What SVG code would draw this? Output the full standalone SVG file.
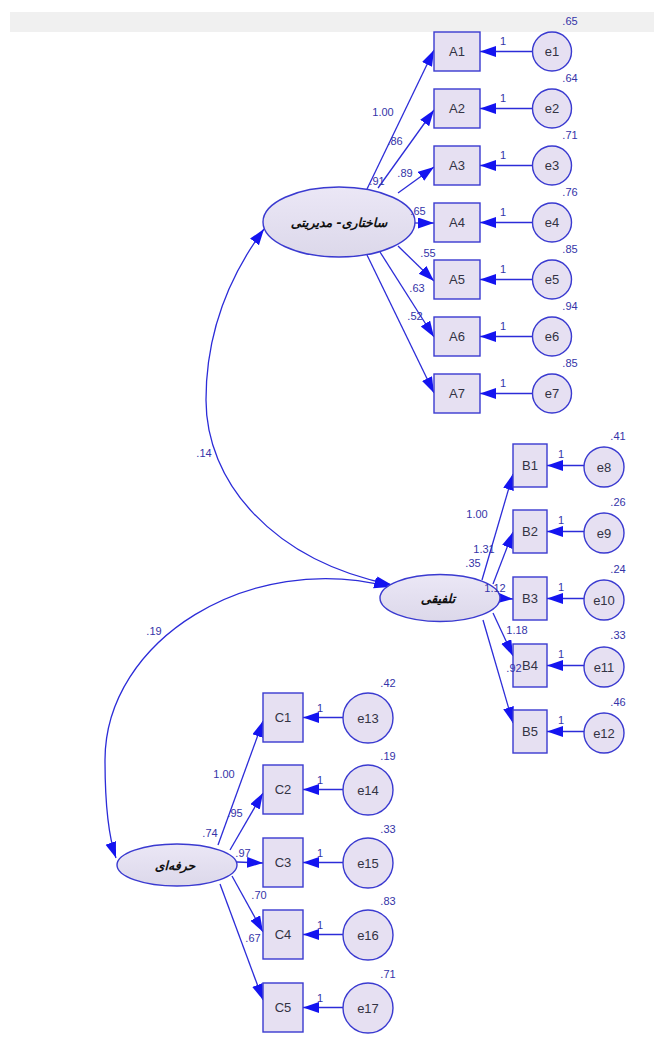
<svg xmlns="http://www.w3.org/2000/svg" width="654" height="1042" viewBox="0 0 654 1042">
  <defs>
    <marker id="arr" markerUnits="userSpaceOnUse" markerWidth="17" markerHeight="12" refX="16" refY="5.5" orient="auto">
      <path d="M0,0 L16,5.5 L0,11 z" fill="#1414f0"/>
    </marker>
    <marker id="arr2" markerUnits="userSpaceOnUse" markerWidth="17" markerHeight="12" refX="16" refY="5.5" orient="auto-start-reverse">
      <path d="M0,0 L16,5.5 L0,11 z" fill="#1414f0"/>
    </marker>
    <linearGradient id="lat" x1="0" y1="0" x2="0" y2="1">
      <stop offset="0" stop-color="#ebe7f6"/>
      <stop offset="1" stop-color="#dcd8ea"/>
    </linearGradient>
  </defs>
  <style>
    .box { fill: #e6e0f2; stroke: #3a3ad0; stroke-width: 1.4; }
    .err { fill: #e6e0f2; stroke: #3a3ad0; stroke-width: 1.4; }
    .lat { fill: url(#lat); stroke: #3a3ad0; stroke-width: 1.4; }
    .lbl { font-family: "Liberation Sans", Arial, sans-serif; font-size: 13px; fill: #333344; text-anchor: middle; }
    .num { font-family: "Liberation Sans", Arial, sans-serif; font-size: 11px; fill: #3434a8; text-anchor: middle; }
    .fa { font-family: "DejaVu Sans", "Noto Sans", sans-serif; font-size: 12.5px; font-weight: bold; font-style: italic; fill: #111111; text-anchor: middle; }
    .ln { fill: none; stroke: #2c2cd8; stroke-width: 1.3; }
  </style>

  <rect x="10" y="12" width="644" height="20" fill="#f0f0f0"/>

  <!-- connectors -->
  <g id="connectors">
    <!-- loadings of the first factor -->
    <line class="ln" x1="367" y1="189" x2="434" y2="50" marker-end="url(#arr)"/>
    <line class="ln" x1="378" y1="188" x2="434" y2="110" marker-end="url(#arr)"/>
    <line class="ln" x1="398" y1="193" x2="434" y2="167" marker-end="url(#arr)"/>
    <line class="ln" x1="414" y1="223" x2="434" y2="223" marker-end="url(#arr)"/>
    <line class="ln" x1="398" y1="246" x2="434" y2="281" marker-end="url(#arr)"/>
    <line class="ln" x1="380" y1="252" x2="434" y2="337" marker-end="url(#arr)"/>
    <line class="ln" x1="367" y1="255" x2="434" y2="393" marker-end="url(#arr)"/>
    <!-- loadings of the second factor -->
    <line class="ln" x1="482" y1="580" x2="513" y2="474" marker-end="url(#arr)"/>
    <line class="ln" x1="493" y1="584" x2="513" y2="532" marker-end="url(#arr)"/>
    <line class="ln" x1="499" y1="598" x2="513" y2="599" marker-end="url(#arr)"/>
    <line class="ln" x1="493" y1="613" x2="513" y2="656" marker-end="url(#arr)"/>
    <line class="ln" x1="483" y1="620" x2="513" y2="723" marker-end="url(#arr)"/>
    <!-- loadings of the third factor -->
    <line class="ln" x1="218" y1="845" x2="263" y2="721" marker-end="url(#arr)"/>
    <line class="ln" x1="230" y1="850" x2="263" y2="793" marker-end="url(#arr)"/>
    <line class="ln" x1="237" y1="862" x2="263" y2="863" marker-end="url(#arr)"/>
    <line class="ln" x1="232" y1="876" x2="263" y2="932" marker-end="url(#arr)"/>
    <line class="ln" x1="220" y1="884" x2="263" y2="1000" marker-end="url(#arr)"/>
    <!-- error terms, A -->
    <line class="ln" x1="533" y1="51.5" x2="480" y2="51.5" marker-end="url(#arr)"/>
    <line class="ln" x1="533" y1="108.5" x2="480" y2="108.5" marker-end="url(#arr)"/>
    <line class="ln" x1="533" y1="165.5" x2="480" y2="165.5" marker-end="url(#arr)"/>
    <line class="ln" x1="533" y1="222.5" x2="480" y2="222.5" marker-end="url(#arr)"/>
    <line class="ln" x1="533" y1="279.5" x2="480" y2="279.5" marker-end="url(#arr)"/>
    <line class="ln" x1="533" y1="336.5" x2="480" y2="336.5" marker-end="url(#arr)"/>
    <line class="ln" x1="533" y1="393.5" x2="480" y2="393.5" marker-end="url(#arr)"/>
    <!-- error terms, B -->
    <line class="ln" x1="584" y1="465.5" x2="547" y2="465.5" marker-end="url(#arr)"/>
    <line class="ln" x1="584" y1="531.5" x2="547" y2="531.5" marker-end="url(#arr)"/>
    <line class="ln" x1="584" y1="598.5" x2="547" y2="598.5" marker-end="url(#arr)"/>
    <line class="ln" x1="584" y1="665.5" x2="547" y2="665.5" marker-end="url(#arr)"/>
    <line class="ln" x1="584" y1="731.5" x2="547" y2="731.5" marker-end="url(#arr)"/>
    <!-- error terms, C -->
    <line class="ln" x1="343" y1="717.5" x2="303" y2="717.5" marker-end="url(#arr)"/>
    <line class="ln" x1="343" y1="789.5" x2="303" y2="789.5" marker-end="url(#arr)"/>
    <line class="ln" x1="343" y1="862.5" x2="303" y2="862.5" marker-end="url(#arr)"/>
    <line class="ln" x1="343" y1="934.5" x2="303" y2="934.5" marker-end="url(#arr)"/>
    <line class="ln" x1="343" y1="1007.5" x2="303" y2="1007.5" marker-end="url(#arr)"/>
    <!-- covariances -->
    <path class="ln" d="M264,229 C230,275 206,330 206,400 C206,480 270,560 392,585" marker-start="url(#arr2)" marker-end="url(#arr2)"/>
    <path class="ln" d="M390,587 C250,550 105,640 105,760 C105,800 108,835 116,858" marker-start="url(#arr2)" marker-end="url(#arr2)"/>
  </g>

  <!-- latent factors -->
  <g id="F1">
    <ellipse class="lat" cx="339" cy="222" rx="76" ry="35"/>
    <text class="fa" x="339" y="227" font-size="13.5">ساختاری- مدیریتی</text>
  </g>
  <g id="F2">
    <ellipse class="lat" cx="440" cy="598" rx="60" ry="23.5"/>
    <text class="fa" x="438" y="603">تلفیقی</text>
  </g>
  <g id="F3">
    <ellipse class="lat" cx="177" cy="865" rx="60" ry="21"/>
    <text class="fa" x="175" y="870">حرفه‌ای</text>
  </g>

  <!-- observed indicators A -->
  <g id="A1"><rect class="box" x="434" y="32" width="46" height="39"/><text class="lbl" x="457" y="56">A1</text></g>
  <g id="A2"><rect class="box" x="434" y="89" width="46" height="39"/><text class="lbl" x="457" y="113">A2</text></g>
  <g id="A3"><rect class="box" x="434" y="146" width="46" height="39"/><text class="lbl" x="457" y="170">A3</text></g>
  <g id="A4"><rect class="box" x="434" y="203" width="46" height="39"/><text class="lbl" x="457" y="227">A4</text></g>
  <g id="A5"><rect class="box" x="434" y="260" width="46" height="39"/><text class="lbl" x="457" y="284">A5</text></g>
  <g id="A6"><rect class="box" x="434" y="317" width="46" height="39"/><text class="lbl" x="457" y="341">A6</text></g>
  <g id="A7"><rect class="box" x="434" y="374" width="46" height="39"/><text class="lbl" x="457" y="398">A7</text></g>

  <!-- observed indicators B -->
  <g id="B1"><rect class="box" x="513" y="444" width="34" height="43"/><text class="lbl" x="530" y="470">B1</text></g>
  <g id="B2"><rect class="box" x="513" y="510" width="34" height="43"/><text class="lbl" x="530" y="536">B2</text></g>
  <g id="B3"><rect class="box" x="513" y="577" width="34" height="43"/><text class="lbl" x="530" y="603">B3</text></g>
  <g id="B4"><rect class="box" x="513" y="644" width="34" height="43"/><text class="lbl" x="530" y="670">B4</text></g>
  <g id="B5"><rect class="box" x="513" y="710" width="34" height="43"/><text class="lbl" x="530" y="736">B5</text></g>

  <!-- observed indicators C -->
  <g id="C1"><rect class="box" x="263" y="693" width="40" height="49"/><text class="lbl" x="283" y="722">C1</text></g>
  <g id="C2"><rect class="box" x="263" y="765" width="40" height="49"/><text class="lbl" x="283" y="794">C2</text></g>
  <g id="C3"><rect class="box" x="263" y="838" width="40" height="49"/><text class="lbl" x="283" y="867">C3</text></g>
  <g id="C4"><rect class="box" x="263" y="910" width="40" height="49"/><text class="lbl" x="283" y="939">C4</text></g>
  <g id="C5"><rect class="box" x="263" y="983" width="40" height="49"/><text class="lbl" x="283" y="1012">C5</text></g>

  <!-- error terms A -->
  <g id="e1"><circle class="err" cx="552" cy="51.5" r="19.5"/><text class="lbl" x="552" y="56">e1</text><text class="num" x="570" y="25">.65</text></g>
  <g id="e2"><circle class="err" cx="552" cy="108.5" r="19.5"/><text class="lbl" x="552" y="113">e2</text><text class="num" x="570" y="82">.64</text></g>
  <g id="e3"><circle class="err" cx="552" cy="165.5" r="19.5"/><text class="lbl" x="552" y="170">e3</text><text class="num" x="570" y="139">.71</text></g>
  <g id="e4"><circle class="err" cx="552" cy="222.5" r="19.5"/><text class="lbl" x="552" y="227">e4</text><text class="num" x="570" y="196">.76</text></g>
  <g id="e5"><circle class="err" cx="552" cy="279.5" r="19.5"/><text class="lbl" x="552" y="284">e5</text><text class="num" x="570" y="253">.85</text></g>
  <g id="e6"><circle class="err" cx="552" cy="336.5" r="19.5"/><text class="lbl" x="552" y="341">e6</text><text class="num" x="570" y="310">.94</text></g>
  <g id="e7"><circle class="err" cx="552" cy="393.5" r="19.5"/><text class="lbl" x="552" y="398">e7</text><text class="num" x="570" y="367">.85</text></g>

  <!-- error terms B -->
  <g id="e8"><circle class="err" cx="604" cy="467" r="20"/><text class="lbl" x="604" y="472">e8</text><text class="num" x="618" y="440">.41</text></g>
  <g id="e9"><circle class="err" cx="604" cy="533" r="20"/><text class="lbl" x="604" y="538">e9</text><text class="num" x="618" y="506">.26</text></g>
  <g id="e10"><circle class="err" cx="604" cy="600" r="20"/><text class="lbl" x="604" y="605">e10</text><text class="num" x="618" y="573">.24</text></g>
  <g id="e11"><circle class="err" cx="604" cy="667" r="20"/><text class="lbl" x="604" y="672">e11</text><text class="num" x="618" y="639">.33</text></g>
  <g id="e12"><circle class="err" cx="604" cy="733" r="20"/><text class="lbl" x="604" y="738">e12</text><text class="num" x="618" y="706">.46</text></g>

  <!-- error terms C -->
  <g id="e13"><circle class="err" cx="368" cy="718" r="25"/><text class="lbl" x="368" y="723">e13</text><text class="num" x="388" y="687">.42</text></g>
  <g id="e14"><circle class="err" cx="368" cy="790" r="25"/><text class="lbl" x="368" y="795">e14</text><text class="num" x="388" y="760">.19</text></g>
  <g id="e15"><circle class="err" cx="368" cy="863" r="25"/><text class="lbl" x="368" y="868">e15</text><text class="num" x="388" y="833">.33</text></g>
  <g id="e16"><circle class="err" cx="368" cy="935" r="25"/><text class="lbl" x="368" y="940">e16</text><text class="num" x="388" y="905">.83</text></g>
  <g id="e17"><circle class="err" cx="368" cy="1008" r="25"/><text class="lbl" x="368" y="1013">e17</text><text class="num" x="388" y="978">.71</text></g>

  <!-- path and covariance estimates, drawn over the shapes -->
  <g id="estimates">
    <text class="num" x="383" y="116">1.00</text>
    <text class="num" x="395" y="145">.86</text>
    <text class="num" x="377" y="185">.91</text>
    <text class="num" x="405" y="177">.89</text>
    <text class="num" x="418" y="215">.65</text>
    <text class="num" x="428" y="257">.55</text>
    <text class="num" x="417" y="292">.63</text>
    <text class="num" x="415" y="320">.52</text>
    <text class="num" x="477" y="518">1.00</text>
    <text class="num" x="484" y="553">1.31</text>
    <text class="num" x="473" y="567">.35</text>
    <text class="num" x="495" y="592">1.12</text>
    <text class="num" x="517" y="634">1.18</text>
    <text class="num" x="514" y="672">.92</text>
    <text class="num" x="224" y="778">1.00</text>
    <text class="num" x="235" y="817">.95</text>
    <text class="num" x="210" y="837">.74</text>
    <text class="num" x="243" y="857">.97</text>
    <text class="num" x="259" y="899">.70</text>
    <text class="num" x="253" y="942">.67</text>
    <text class="num" x="204" y="457">.14</text>
    <text class="num" x="154" y="635">.19</text>
    <!-- fixed loadings -->
    <text class="num" x="503" y="45">1</text>
    <text class="num" x="503" y="102">1</text>
    <text class="num" x="503" y="159">1</text>
    <text class="num" x="503" y="216">1</text>
    <text class="num" x="503" y="273">1</text>
    <text class="num" x="503" y="330">1</text>
    <text class="num" x="503" y="387">1</text>
    <text class="num" x="561" y="458">1</text>
    <text class="num" x="561" y="524">1</text>
    <text class="num" x="561" y="591">1</text>
    <text class="num" x="561" y="658">1</text>
    <text class="num" x="561" y="724">1</text>
    <text class="num" x="320" y="712">1</text>
    <text class="num" x="320" y="784">1</text>
    <text class="num" x="320" y="857">1</text>
    <text class="num" x="320" y="929">1</text>
    <text class="num" x="320" y="1002">1</text>
  </g>
</svg>
